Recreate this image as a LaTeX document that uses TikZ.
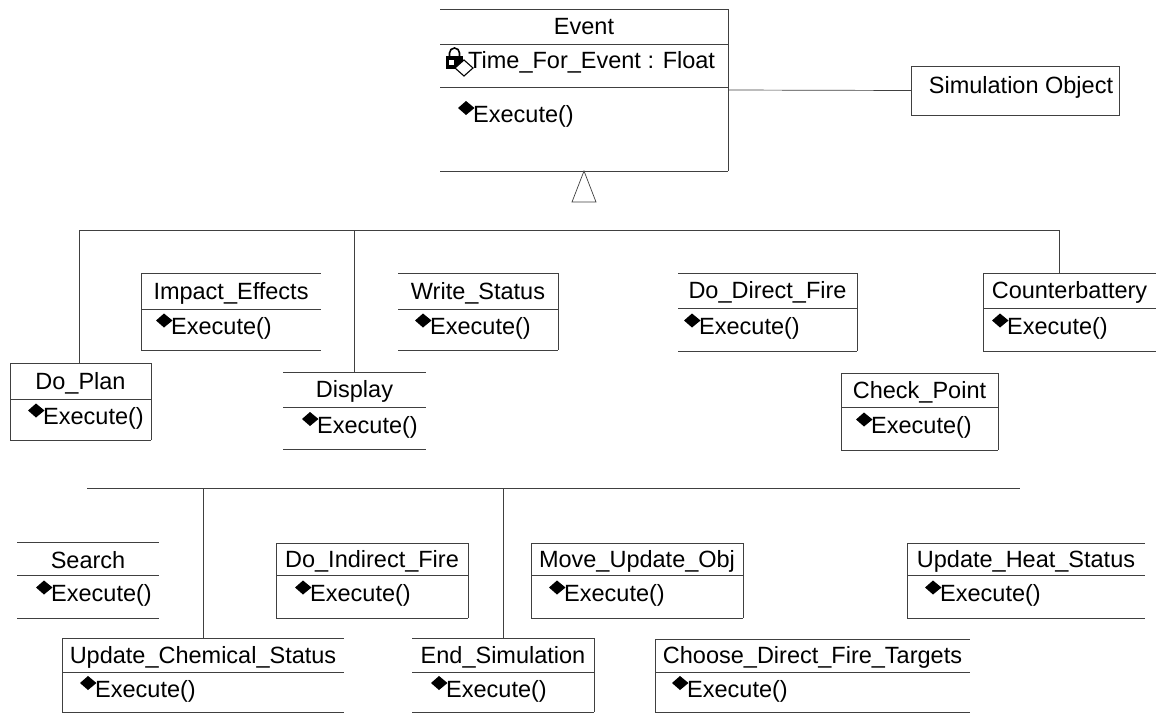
\documentclass[tikz,border=0pt]{standalone}
\usepackage{fontspec}
\setmainfont{Liberation Sans}
\usetikzlibrary{calc}

\tikzset{
  umlline/.style={draw=black!75, line width=0.7pt},
  classframe/.style={rectangle, draw=none, inner sep=0pt, outer sep=0pt},
  label/.style={inner sep=0pt, font=\fontsize{23.5}{27}\selectfont},
  opicon/.style={fill=black},
}

% operation marker: filled diamond with its left tip at (#1,#2)
\newcommand\opmark[2]{%
  \fill[opicon] (#1,#2) -- ++(8,-7) -- ++(8.5,7) -- ++(-8.5,7) -- cycle;}

% class box: #1 name, #2 left, #3 top, #4 right, #5 separator, #6 bottom,
% #7 class name, #8 x of the operation icon
\newcommand\classbox[8]{%
  \node[classframe, minimum width={(#4-#2)*1pt}, minimum height={(#6-#3)*1pt}]
    (#1) at ({(#2+#4)/2},{(#3+#6)/2}) {};
  \draw[umlline] (#1.north west) -- (#1.north east);
  \draw[umlline] (#1.south west) -- (#1.south east);
  \draw[umlline] (#2,#5) -- (#4,#5);
  \node[label] (#1-title) at ({(#2+#4)/2},{(#3+#5)/2+2}) {#7};
  \opmark{#8}{{(#5+#6)/2-9}}
  \node[label, anchor=west] (#1-op) at ({#8+15},{(#5+#6)/2-1}) {Execute()};
}
\newcommand\lside[1]{\draw[umlline] (#1.north west) -- (#1.south west);}
\newcommand\rside[1]{\draw[umlline] (#1.north east) -- (#1.south east);}

\begin{document}
\begin{tikzpicture}[x=1pt, y=-1pt]
\useasboundingbox (0,0) rectangle (1158,715);

% ---- Event ----
\node[classframe, minimum width=288pt, minimum height=162pt] (event) at (584,90) {};
\draw[umlline] (event.north west) -- (event.north east);
\draw[umlline] (event.south west) -- (event.south east);
\draw[umlline] (440,44) -- (728,44);
\draw[umlline] (440,87) -- (728,87);
\rside{event}
\node[label] (event-title) at (584,27) {Event};
% lock + attribute marker
\draw[line width=1.6pt] (449.5,57) -- (449.5,53) arc[start angle=180, end angle=360, radius=5] -- (459.5,57);
\fill (446,56) rectangle (463,69);
\fill[white] (449,60) rectangle (454,65);
\draw[line width=1.1pt, fill=white] (455,68) -- (464,60) -- (473,68) -- (464,76) -- cycle;
\node[label, anchor=west] (event-attr) at (468,62) {Time\_For\_Event : Float};
\opmark{458}{108}
\node[label, anchor=west] (event-op) at (473,116) {Execute()};

% ---- Simulation Object ----
\node[classframe, draw=black!75, line width=0.7pt, minimum width=208pt, minimum height=49pt]
  (simobj) at (1015,90.5) {};
\node[label] (simobj-title) at (1021,87) {Simulation Object};
\draw[umlline] (event.east) -- (simobj.west);

% generalization marker
\draw[umlline, fill=white] (event.south) -- ++(-12,31) -- ++(24,0) -- cycle;

% ---- upper row of subclasses ----
\classbox{impact}{141}{273}{321}{309}{350}{Impact\_Effects}{156}
\lside{impact}
\classbox{write}{398}{273}{558}{309}{350}{Write\_Status}{415}
\rside{write}
\classbox{direct}{678}{273}{857}{308}{351}{Do\_Direct\_Fire}{684}
\rside{direct}
\classbox{counter}{983}{273}{1156}{308}{351}{Counterbattery}{992}
\lside{counter}
\classbox{doplan}{10}{363}{151}{399}{440}{Do\_Plan}{28}
\lside{doplan}\rside{doplan}
\classbox{display}{283}{372}{426}{407}{449}{Display}{302}
\classbox{check}{841}{373}{998}{407}{450}{Check\_Point}{856}
\lside{check}\rside{check}

\coordinate (upL) at (79,230);
\coordinate (upR) at (1059,230);
\draw[umlline] (upL) -- (upR);
\draw[umlline] (upL) -- (upL |- doplan.north);
\draw[umlline] (display.north |- upL) -- (display.north);
\draw[umlline] (upR) -- (upR |- counter.north);

% ---- lower row of subclasses ----
\classbox{search}{17}{542}{159}{575}{618}{Search}{36}
\classbox{indirect}{276}{543}{468}{575}{618}{Do\_Indirect\_Fire}{295}
\lside{indirect}\rside{indirect}
\classbox{move}{531}{543}{743}{575}{618}{Move\_Update\_Obj}{549}
\lside{move}\rside{move}
\classbox{heat}{907}{543}{1145}{575}{618}{Update\_Heat\_Status}{925}
\lside{heat}
\classbox{chem}{62}{638}{344}{672}{712}{Update\_Chemical\_Status}{80}
\lside{chem}
\classbox{endsim}{412}{638}{594}{672}{712}{End\_Simulation}{431}
\rside{endsim}
\classbox{choose}{655}{639}{970}{672}{712}{Choose\_Direct\_Fire\_Targets}{672}
\lside{choose}

\coordinate (lowL) at (87,488);
\coordinate (lowR) at (1020,488);
\draw[umlline] (lowL) -- (lowR);
\draw[umlline] (chem.north |- lowL) -- (chem.north);
\draw[umlline] (endsim.north |- lowL) -- (endsim.north);
\end{tikzpicture}
\end{document}
